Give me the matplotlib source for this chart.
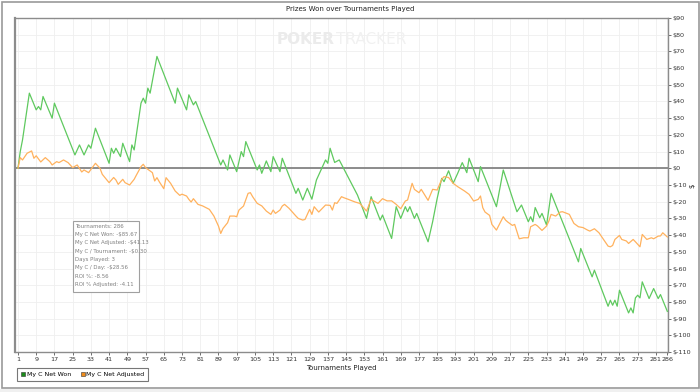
import matplotlib
matplotlib.use("Agg")
import matplotlib.pyplot as plt
from matplotlib.patches import Rectangle
from matplotlib.lines import Line2D

# turning points of each cumulative line (tournament number, dollars)
won_t = [1, 2, 3, 6, 9, 10, 11, 12, 16, 17, 26, 28, 30, 32, 33, 35, 41, 42, 43, 44,
         46, 47, 50, 51, 52, 55, 56, 57, 58, 59, 62, 70, 71, 75, 76, 78, 79, 90, 91, 93,
         94, 97, 99, 100, 101, 106, 107, 108, 110, 112, 113, 116, 117, 123, 124, 126, 128, 130, 132, 134,
         136, 137, 138, 140, 142, 150, 154, 156, 160, 161, 165, 167, 169, 171, 172, 173, 175, 176, 181, 183,
         185, 187, 188, 190, 192, 194, 196, 198, 199, 203, 204, 211, 214, 220, 222, 225, 226, 227, 228, 230,
         231, 233, 235, 247, 248, 253, 254, 260, 261, 262, 263, 264, 265, 269, 270, 271, 272, 273, 274, 275,
         278, 280, 282, 283, 286]
won_v = [0, 10, 17, 45, 35, 37, 35, 43, 30, 39, 8, 14, 8, 14, 12, 24, 3, 12, 9, 12,
         7, 15, 4, 14, 11, 39, 42, 39, 48, 45, 67, 39, 48, 35, 44, 38, 40, 2, 5, -1,
         8, -2, 10, 7, 16, -1, 2, -3, 4.4, -2, 7, -2, 6, -15, -12, -19, -12, -18.5, -7, -1,
         5, 3, 12, 3.5, 5, -16, -30, -17, -31, -28, -42, -23, -30, -23, -26, -23, -30, -27, -44, -32,
         -18, -6, -8, -1.5, -9, -3, 3.4, -2.6, 6, -8, 1, -23, -1, -26, -22, -32, -29, -32, -23.5, -29.6,
         -27, -34, -15, -56, -48, -65, -61, -82.6, -79, -82, -79, -82.6, -73, -86.6, -83.6, -86.6, -77.6, -76, -77.6, -68,
         -78, -72, -78, -75.6, -85.67]

adj_t = [1, 2, 3, 5, 7, 8, 9, 11, 13, 15, 16, 18, 19, 21, 23, 25, 27, 29, 30, 32,
         35, 37, 38, 41, 43, 44, 45, 47, 48, 50, 52, 53, 55, 56, 57, 60, 61, 62, 63, 65,
         66, 68, 70, 72, 73, 75, 76, 77, 78, 80, 82, 85, 87, 89, 90, 91, 93, 94, 96, 97,
         98, 100, 102, 103, 104, 106, 108, 110, 112, 113, 114, 116, 117, 118, 120, 123, 124, 126, 127, 129,
         130, 131, 133, 136, 138, 139, 140, 141, 143, 144, 146, 149, 151, 154, 156, 159, 161, 163, 165, 167,
         169, 171, 172, 174, 175, 177, 178, 181, 183, 185, 187, 188, 190, 192, 194, 197, 199, 201, 203, 204,
         205, 206, 208, 209, 211, 213, 214, 215, 216, 218, 219, 221, 223, 225, 226, 228, 229, 231, 233, 234,
         235, 237, 239, 240, 243, 245, 247, 249, 251, 252, 254, 256, 258, 260, 261, 262, 263, 265, 266, 268,
         269, 271, 272, 274, 275, 277, 279, 280, 282, 283, 284, 286]
adj_v = [0, 6.4, 5, 9, 10.4, 6, 7.5, 3.8, 6.4, 4, 2, 4, 3.4, 5, 3.4, 0.4, 2, -2.2, -1, -2.6,
         3, 0, -3.6, -8.6, -5.5, -7, -9.6, -6.6, -8.6, -10, -6.6, -4, 1, 2.4, 0.4, -2.6, -7.6, -5.6, -8, -12.2,
         -5.6, -9, -13.6, -16.2, -15.5, -16.6, -18.6, -20.2, -18.2, -21.6, -22.5, -24.6, -28.6, -34.6, -39, -36, -32.6, -28.6, -28.6, -29,
         -25, -22.6, -15, -14.6, -17, -21, -22.5, -25.6, -27.6, -25, -27, -25, -22.6, -21.6, -24, -28.6, -30, -31, -30.6, -24.6,
         -27.6, -23, -26.2, -22, -22.2, -25, -20.6, -21, -17, -17.6, -18.6, -20.2, -21, -25.6, -18.6, -21, -18.2, -19.5, -19.5, -21.6,
         -24.2, -19.6, -19, -9, -12.6, -14.6, -12.6, -19.2, -12.6, -13, -6.6, -5, -5.5, -9, -11, -13.6, -15.6, -19.6, -18.6, -16.6,
         -23.6, -26.2, -28.2, -33.6, -37, -31.6, -29, -31, -32.2, -34.2, -33.6, -42.2, -41.6, -41.6, -35, -33.6, -34.5, -37.2, -34.6, -31.6,
         -27.6, -28.6, -26.2, -26, -27.6, -33, -35, -35.5, -37, -37.6, -36.2, -38.6, -42.6, -46.6, -47, -46.2, -42.6, -40.2, -42.6, -43.5,
         -45, -42.6, -44, -47, -39.6, -42.6, -41.6, -42.2, -40.6, -40.5, -38.6, -41.13]

x_ticks = list(range(1, 282, 8)) + [286]
y_ticks = list(range(-110, 91, 10))

stats = ["Tournaments: 286",
         "My C Net Won: -$85.67",
         "My C Net Adjusted: -$41.13",
         "My C / Tournament: -$0.30",
         "Days Played: 3",
         "My C / Day: -$28.56",
         "ROI %: -8.56",
         "ROI % Adjusted: -4.11"]

fig = plt.figure(figsize=(7, 3.92), dpi=100)
fig.patch.set_facecolor("white")
ax = fig.add_axes([15 / 700, 1 - 352 / 392, 653 / 700, 334 / 392])

ax.plot(won_t, won_v, color="#5fc95f", lw=0.9, zorder=3)
ax.plot(adj_t, adj_v, color="#ffb25e", lw=0.9, zorder=3)
ax.axhline(0, color="#8c8c8c", lw=1.4, zorder=2)

ax.set_xlim(-0.3, 286.3)
ax.set_ylim(-110, 90)
ax.set_xticks(x_ticks)
ax.set_yticks(y_ticks)
ax.set_yticklabels(["$%d" % v for v in y_ticks])
ax.yaxis.tick_right()
ax.tick_params(labelsize=4.6, length=2, width=0.5, colors="#333333", pad=1.5)
ax.grid(True, color="#efefef", lw=0.6)
ax.set_axisbelow(True)
for s in ax.spines.values():
    s.set_color("#8c8c8c")
    s.set_linewidth(1.0)
ax.spines["left"].set_linewidth(1.6)

ax.set_xlabel("Tournaments Played", fontsize=5, color="#222222", labelpad=2)
fig.text(692 / 700, 1 - 186 / 392, "$", fontsize=5, color="#222222", rotation=90,
         ha="center", va="center")
fig.text(0.5, 1 - 9 / 392, "Prizes Won over Tournaments Played", fontsize=5, color="#222222",
         ha="center", va="center")

# watermark
fig.text(277 / 700, 1 - 40 / 392, "POKER", fontsize=11, fontweight="bold", color="#ebebeb",
         ha="left", va="center")
fig.text(336 / 700, 1 - 40 / 392, "TRACKER", fontsize=11, color="#f1f1f1",
         ha="left", va="center")

# stats tooltip
fig.patches.append(Rectangle((72.5 / 700, 1 - 291.5 / 392), 66 / 700, 71 / 392,
                             transform=fig.transFigure, facecolor="white",
                             edgecolor="#a0a0a0", lw=0.8, zorder=5))
for i, line in enumerate(stats):
    fig.text(75 / 700, 1 - (226 + i * 8.4) / 392, line, fontsize=3.9, color="#808080",
             ha="left", va="center", zorder=6)

# legend box
handles = [Line2D([], [], marker="s", ls="", color="#1a8c1a", markeredgecolor="#333333",
                  markersize=3.5, markeredgewidth=0.4),
           Line2D([], [], marker="s", ls="", color="#f08c1a", markeredgecolor="#333333",
                  markersize=3.5, markeredgewidth=0.4)]
leg = fig.legend(handles, ["My C Net Won", "My C Net Adjusted"], loc="lower left",
                 bbox_to_anchor=(14 / 700, 1 - 384 / 392), ncol=2, fontsize=4.5,
                 frameon=True, fancybox=False, handletextpad=0.2, columnspacing=1.4,
                 borderpad=0.6, handlelength=0.8)
leg.get_frame().set_edgecolor("#555555")
leg.get_frame().set_linewidth(0.8)

# outer frame
fig.patches.append(Rectangle((2 / 700, 1 - 388 / 392), 697 / 700, 386 / 392,
                             transform=fig.transFigure, fill=False,
                             edgecolor="#9a9a9a", lw=1.2))
fig.patches.append(Rectangle((0, 0), 1, 3.5 / 392, transform=fig.transFigure,
                             facecolor="#f0f0f0", edgecolor="none"))

fig.savefig("out.png", dpi=100)
